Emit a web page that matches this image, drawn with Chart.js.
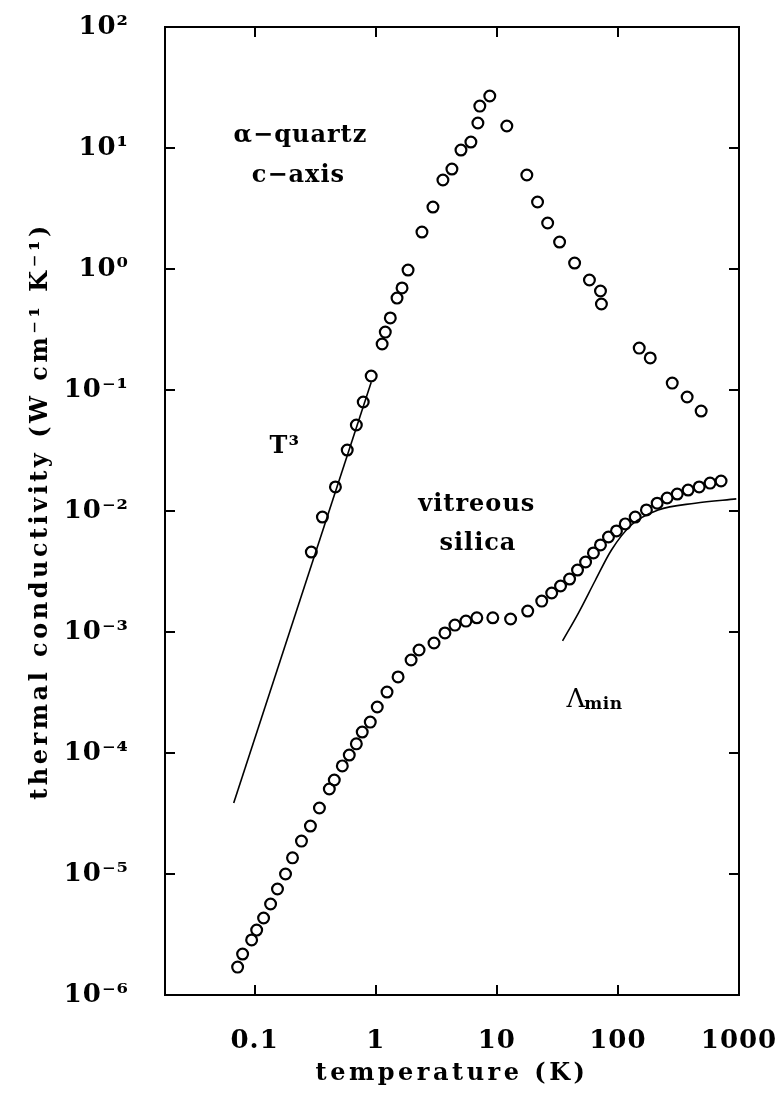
<!DOCTYPE html>
<html><head><meta charset="utf-8">
<script src="https://cdn.jsdelivr.net/npm/chart.js@4/dist/chart.umd.min.js"></script>
<style>html,body{margin:0;padding:0;background:#fff;}canvas{display:block;}</style>
</head><body>
<canvas id="c" width="784" height="1101"></canvas>
<script>
// ---- data ----
const quartzT = [0.294,0.363,0.465,0.582,0.692,0.789,0.918,1.13,1.20,1.32,1.50,1.65,1.85,2.41,2.97,3.59,4.26,5.06,6.11,6.98,7.24,8.75,12.1,17.7,21.7,26.3,33.0,43.9,58.2,71.8,73.1,150,185,281,373,487];
const quartzK = [0.00458,0.00891,0.0158,0.0319,0.0514,0.0796,0.1305,0.240,0.301,0.394,0.575,0.697,0.98,2.02,3.25,5.44,6.70,9.62,11.2,16.1,22.2,26.9,15.2,5.98,3.58,2.40,1.67,1.12,0.811,0.658,0.514,0.222,0.184,0.114,0.0875,0.067];
const silicaT = [0.0724,0.0796,0.0945,0.104,0.1186,0.1355,0.1545,0.180,0.2056,0.2438,0.289,0.343,0.414,0.455,0.530,0.605,0.692,0.774,0.902,1.03,1.24,1.53,1.96,2.28,3.03,3.73,4.51,5.56,6.84,9.27,13.0,18.0,23.5,28.4,33.6,39.9,46.4,54.1,62.8,71.8,83.6,97.3,115,139,172,211,255,309,380,469,577,711];
const silicaK = [1.70e-6,2.18e-6,2.85e-6,3.44e-6,4.33e-6,5.65e-6,7.52e-6,1.00e-5,1.36e-5,1.87e-5,2.49e-5,3.51e-5,5.04e-5,5.98e-5,7.82e-5,9.62e-5,1.19e-4,1.49e-4,1.80e-4,2.40e-4,3.19e-4,4.25e-4,5.87e-4,7.10e-4,8.11e-4,9.82e-4,1.14e-3,1.23e-3,1.31e-3,1.31e-3,1.28e-3,1.49e-3,1.80e-3,2.10e-3,2.40e-3,2.74e-3,3.25e-3,3.79e-3,4.50e-3,5.24e-3,6.10e-3,6.84e-3,7.82e-3,8.91e-3,1.02e-2,1.16e-2,1.28e-2,1.38e-2,1.49e-2,1.58e-2,1.70e-2,1.77e-2];
const t3LineT = [0.0672, 0.918];
const t3LineK = [3.86e-5, 0.116];
const lambdaMinT = [34.9, 47.3, 65.3, 88.5, 129, 215, 434, 950];
const lambdaMinK = [8.43e-4, 1.44e-3, 2.69e-3, 4.76e-3, 7.66e-3, 1.02e-2, 1.16e-2, 1.26e-2];

const xTickValues = [0.1, 1, 10, 100, 1000];
const xTickLabels = ['0.1', '1', '10', '100', '1000'];
const yTickValues = [1e-6, 1e-5, 1e-4, 1e-3, 1e-2, 1e-1, 1, 10, 100];
const yTickLabels = ['10\u207B\u2076','10\u207B\u2075','10\u207B\u2074','10\u207B\u00B3','10\u207B\u00B2','10\u207B\u00B9','10\u2070','10\u00B9','10\u00B2'];
const xRange = [0.0182, 1000];
const yRange = [1e-6, 100];
const xTitle = 'temperature (K)';
const yTitle = 'thermal conductivity (W cm\u207B\u00B9 K\u207B\u00B9)';

// annotation labels (text, T, k, align)
const annotations = [
  {text: '\u03B1\u2212quartz', x: 0.239, y: 11.2, align: 'center'},
  {text: 'c\u2212axis', x: 0.230, y: 5.24, align: 'center'},
  {text: 'T\u00B3', x: 0.133, y: 0.0301, align: 'left'},
  {text: 'vitreous', x: 6.84, y: 0.0100, align: 'center'},
  {text: 'silica', x: 6.98, y: 0.00476, align: 'center'},
];
const lambdaLabel = {main: '\u039B', sub: 'min', x: 37.7, y: 2.40e-4};

const FONT = 'DejaVu Serif';
const pts = (xs, ys) => xs.map((x, i) => ({x, y: ys[i]}));

const spacingPlugin = {
  id: 'spacing',
  beforeDraw(chart) {
    chart.ctx.letterSpacing = '1px';
    Object.values(chart.scales).forEach(s => {
      if (!s._lsPatched) {
        const orig = s.drawTitle;
        s.drawTitle = function (...a) {
          const c = this.ctx; const prev = c.letterSpacing;
          c.letterSpacing = '3.5px';
          orig.apply(this, a);
          c.letterSpacing = prev;
        };
        s._lsPatched = true;
      }
    });
  }
};

const annotationPlugin = {
  id: 'annot',
  afterDatasetsDraw(chart) {
    const {ctx, scales: {x, y}} = chart;
    ctx.save();
    ctx.letterSpacing = '1px';
    ctx.fillStyle = '#000';
    ctx.textBaseline = 'alphabetic';
    ctx.font = 'bold 24px "' + FONT + '"';
    annotations.forEach(a => {
      ctx.textAlign = a.align;
      ctx.fillText(a.text, x.getPixelForValue(a.x), y.getPixelForValue(a.y));
    });
    const lx = x.getPixelForValue(lambdaLabel.x), ly = y.getPixelForValue(lambdaLabel.y);
    ctx.textAlign = 'left';
    ctx.letterSpacing = '0px';
    ctx.font = '26px "' + FONT + '"';
    ctx.fillText(lambdaLabel.main, lx, ly);
    const w = ctx.measureText(lambdaLabel.main).width;
    ctx.font = 'bold 17px "' + FONT + '"';
    ctx.letterSpacing = '0.5px';
    ctx.fillText(lambdaLabel.sub, lx + w - 1, ly + 2);
    ctx.restore();
  }
};

const zeroPad = s => { s.paddingTop = 0; s.paddingBottom = 0; s.paddingLeft = 0; s.paddingRight = 0; };
const gridOpts = {drawOnChartArea: false, drawTicks: true, tickLength: -10, color: '#000', lineWidth: 2};
const borderOpts = {display: true, color: '#000', width: 2};
const tickFont = {family: FONT, size: 26, weight: 'bold'};
const titleFont = {family: FONT, size: 24, weight: 'bold'};

new Chart(document.getElementById('c'), {
  type: 'scatter',
  data: {
    datasets: [
      {label: 'alpha-quartz c-axis', data: pts(quartzT, quartzK), pointStyle: 'circle', pointRadius: 5.4, pointBorderWidth: 2.2, borderColor: '#000', backgroundColor: 'rgba(0,0,0,0)', pointBackgroundColor: 'rgba(0,0,0,0)', showLine: false},
      {label: 'vitreous silica', data: pts(silicaT, silicaK), pointStyle: 'circle', pointRadius: 5.4, pointBorderWidth: 2.2, borderColor: '#000', backgroundColor: 'rgba(0,0,0,0)', pointBackgroundColor: 'rgba(0,0,0,0)', showLine: false},
      {label: 'T3', data: pts(t3LineT, t3LineK), showLine: true, pointRadius: 0, borderColor: '#000', borderWidth: 1.6, fill: false},
      {label: 'Lambda min', data: pts(lambdaMinT, lambdaMinK), showLine: true, pointRadius: 0, borderColor: '#000', borderWidth: 1.6, fill: false, cubicInterpolationMode: 'monotone'}
    ]
  },
  options: {
    responsive: false, animation: false, devicePixelRatio: 1,
    events: [],
    layout: {padding: {left: 0, top: 27, right: 45, bottom: 0}},
    plugins: {legend: {display: false}, tooltip: {enabled: false}},
    scales: {
      x: {
        type: 'logarithmic', position: 'bottom', min: xRange[0], max: xRange[1],
        afterBuildTicks: s => { s.ticks = xTickValues.map(v => ({value: v})); },
        afterFit: s => { s.height = 106; zeroPad(s); },
        ticks: {callback: (v, i) => xTickLabels[i], font: tickFont, color: '#000', padding: 41, maxRotation: 0, autoSkip: false},
        grid: gridOpts, border: borderOpts,
        title: {display: true, text: xTitle, font: titleFont, color: '#000', padding: {top: 0, bottom: 12.6}}
      },
      y: {
        type: 'logarithmic', position: 'left', min: yRange[0], max: yRange[1],
        afterBuildTicks: s => { s.ticks = yTickValues.map(v => ({value: v})); },
        afterFit: s => { s.width = 165; zeroPad(s); },
        ticks: {callback: (v, i) => yTickLabels[i], font: tickFont, color: '#000', padding: 46, autoSkip: false},
        grid: gridOpts, border: borderOpts,
        title: {display: true, text: yTitle, font: titleFont, color: '#000', padding: {top: 26.6, bottom: 0}}
      },
      x2: {
        type: 'logarithmic', position: 'top', min: xRange[0], max: xRange[1],
        afterBuildTicks: s => { s.ticks = xTickValues.map(v => ({value: v})); },
        afterFit: s => { s.height = 0; zeroPad(s); },
        ticks: {display: false}, grid: gridOpts, border: borderOpts
      },
      y2: {
        type: 'logarithmic', position: 'right', min: yRange[0], max: yRange[1],
        afterBuildTicks: s => { s.ticks = yTickValues.map(v => ({value: v})); },
        afterFit: s => { s.width = 0; zeroPad(s); },
        ticks: {display: false}, grid: gridOpts, border: borderOpts
      }
    }
  },
  plugins: [spacingPlugin, annotationPlugin]
});
</script>
</body></html>
